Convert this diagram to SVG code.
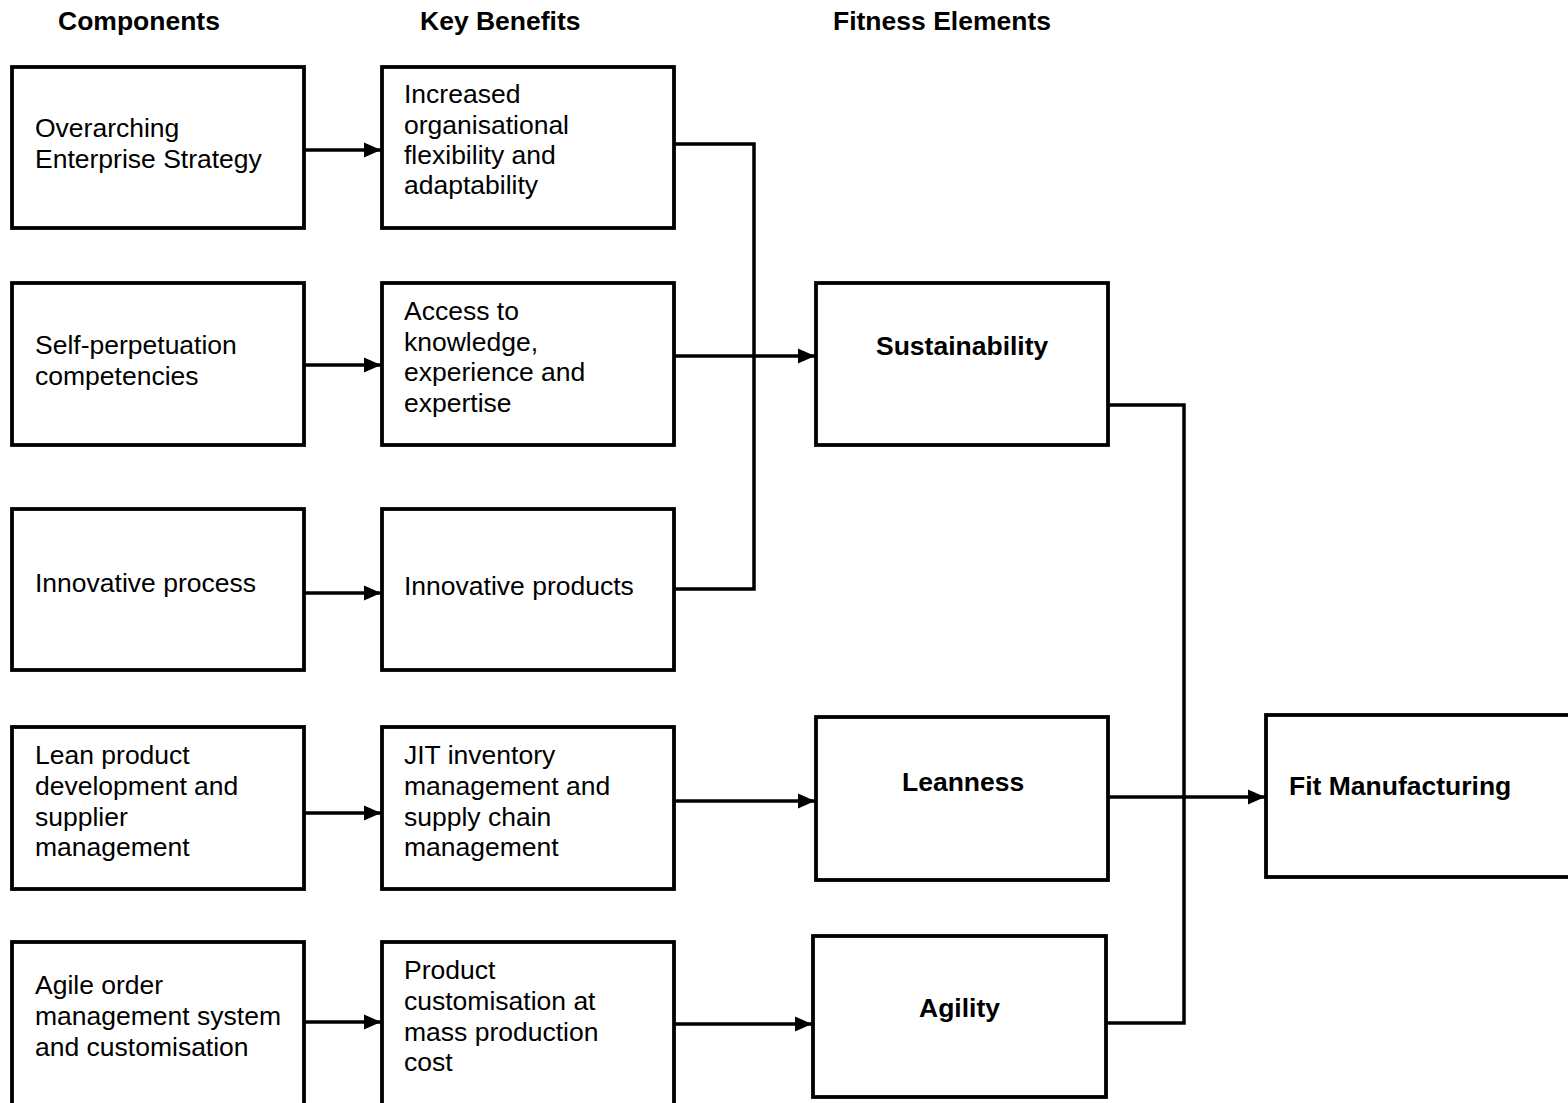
<svg xmlns="http://www.w3.org/2000/svg" width="1568" height="1103" viewBox="0 0 1568 1103">
<style>
.box{fill:#fff;stroke:#000;stroke-width:3.8}
.t{font-family:"Liberation Sans",Arial,sans-serif;font-size:26.5px;fill:#000}
.b{font-family:"Liberation Sans",Arial,sans-serif;font-size:26.5px;font-weight:bold;fill:#000}
.c{fill:none;stroke:#000;stroke-width:3.5}
</style>
<defs>
<marker id="ah" markerUnits="userSpaceOnUse" markerWidth="17" markerHeight="16" refX="17" refY="8" orient="auto">
<path d="M0,0.5 L17,8 L0,15.5 Z" fill="#000"/>
</marker>
</defs>
<rect width="1568" height="1103" fill="#fff"/>
<g id="headers">
<text class="b" x="58" y="30">Components</text>
<text class="b" x="420" y="30">Key Benefits</text>
<text class="b" x="833" y="30">Fitness Elements</text>
</g>
<g id="a1"><rect class="box" x="12" y="67" width="292" height="161"/>
<text class="t" x="35" y="137">Overarching</text><text class="t" x="35" y="168">Enterprise Strategy</text></g>
<g id="b1"><rect class="box" x="382" y="67" width="292" height="161"/>
<text class="t" x="404" y="103">Increased</text><text class="t" x="404" y="134">organisational</text><text class="t" x="404" y="164">flexibility and</text><text class="t" x="404" y="194">adaptability</text></g>
<g id="a2"><rect class="box" x="12" y="283" width="292" height="162"/>
<text class="t" x="35" y="354">Self-perpetuation</text><text class="t" x="35" y="385">competencies</text></g>
<g id="b2"><rect class="box" x="382" y="283" width="292" height="162"/>
<text class="t" x="404" y="320">Access to</text><text class="t" x="404" y="351">knowledge,</text><text class="t" x="404" y="381">experience and</text><text class="t" x="404" y="412">expertise</text></g>
<g id="a3"><rect class="box" x="12" y="509" width="292" height="161"/>
<text class="t" x="35" y="592">Innovative process</text></g>
<g id="b3"><rect class="box" x="382" y="509" width="292" height="161"/>
<text class="t" x="404" y="595">Innovative products</text></g>
<g id="a4"><rect class="box" x="12" y="727" width="292" height="162"/>
<text class="t" x="35" y="764">Lean product</text><text class="t" x="35" y="795">development and</text><text class="t" x="35" y="826">supplier</text><text class="t" x="35" y="856">management</text></g>
<g id="b4"><rect class="box" x="382" y="727" width="292" height="162"/>
<text class="t" x="404" y="764">JIT inventory</text><text class="t" x="404" y="795">management and</text><text class="t" x="404" y="826">supply chain</text><text class="t" x="404" y="856">management</text></g>
<g id="a5"><rect class="box" x="12" y="942" width="292" height="170"/>
<text class="t" x="35" y="994">Agile order</text><text class="t" x="35" y="1025">management system</text><text class="t" x="35" y="1056">and customisation</text></g>
<g id="b5"><rect class="box" x="382" y="942" width="292" height="170"/>
<text class="t" x="404" y="979">Product</text><text class="t" x="404" y="1010">customisation at</text><text class="t" x="404" y="1041">mass production</text><text class="t" x="404" y="1071">cost</text></g>
<g id="sustainability"><rect class="box" x="816" y="283" width="292" height="162"/>
<text class="b" x="876" y="355">Sustainability</text></g>
<g id="leanness"><rect class="box" x="816" y="717" width="292" height="163"/>
<text class="b" x="902" y="791">Leanness</text></g>
<g id="agility"><rect class="box" x="813" y="936" width="293" height="161"/>
<text class="b" x="919" y="1017">Agility</text></g>
<g id="fit"><rect class="box" x="1266" y="715" width="320" height="162"/>
<text class="b" x="1289" y="795">Fit Manufacturing</text></g>
<g id="connectors">
<path class="c" d="M304,150 H381" marker-end="url(#ah)"/>
<path class="c" d="M304,365 H381" marker-end="url(#ah)"/>
<path class="c" d="M304,593 H381" marker-end="url(#ah)"/>
<path class="c" d="M304,813 H381" marker-end="url(#ah)"/>
<path class="c" d="M304,1022 H381" marker-end="url(#ah)"/>
<path class="c" d="M674,144 H754 V589 H674"/>
<path class="c" d="M674,356 H815" marker-end="url(#ah)"/>
<path class="c" d="M674,801 H815" marker-end="url(#ah)"/>
<path class="c" d="M674,1024 H812" marker-end="url(#ah)"/>
<path class="c" d="M1108,405 H1184 V1023 H1106"/>
<path class="c" d="M1108,797 H1265" marker-end="url(#ah)"/>
</g>
</svg>
